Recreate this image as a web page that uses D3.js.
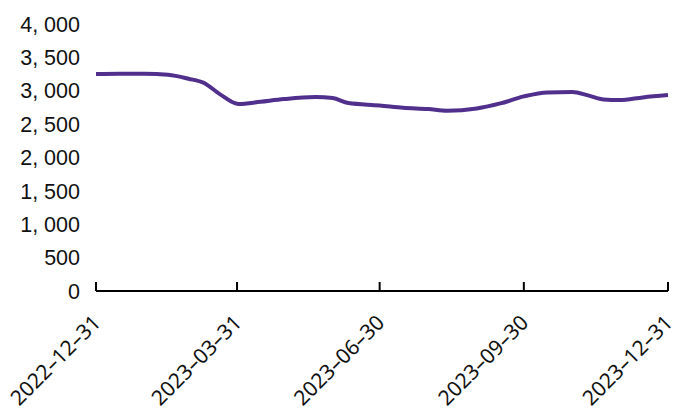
<!DOCTYPE html>
<html>
<head>
<meta charset="utf-8">
<script src="https://cdn.jsdelivr.net/npm/d3@7"></script>
<style>
  html, body { margin: 0; padding: 0; background: #fff; }
  svg { display: block; }
</style>
</head>
<body>
<svg id="chart" width="678" height="414"></svg>
<script>
const dates = ["2022-12-31","2023-01-15","2023-01-31","2023-02-15","2023-02-28","2023-03-10","2023-03-20","2023-04-01","2023-04-15","2023-04-30","2023-05-20","2023-05-31","2023-06-10","2023-06-30","2023-07-15","2023-07-31","2023-08-12","2023-08-31","2023-09-15","2023-09-30","2023-10-15","2023-10-31","2023-11-10","2023-11-20","2023-11-30","2023-12-15","2023-12-31"];
const values = [3250,3255,3255,3240,3180,3115,2950,2800,2835,2875,2905,2890,2815,2780,2745,2725,2700,2735,2810,2915,2975,2980,2930,2870,2860,2900,2935];
const xTickLabels = ["2022-12-31","2023-03-31","2023-06-30","2023-09-30","2023-12-31"];
const yTicks = [0,500,1000,1500,2000,2500,3000,3500,4000];

const parse = d3.timeParse("%Y-%m-%d");
const data = dates.map((d, i) => ({ date: parse(d), value: values[i] }));

const svg = d3.select("#chart");
const x = d3.scaleTime().domain([parse(xTickLabels[0]), parse(xTickLabels[xTickLabels.length - 1])]).range([96, 668]);
const y = d3.scaleLinear().domain([0, 4000]).range([291, 24]);

// Y labels
const fmt = v => d3.format(",")(v).replace(/,/g, ", ");
svg.append("g").selectAll("text").data(yTicks).join("text")
  .attr("x", 80).attr("y", d => y(d)).attr("dy", "0.36em")
  .attr("text-anchor", "end")
  .attr("font-family", "'Liberation Sans', Arial, sans-serif")
  .attr("font-size", 21.5).attr("fill", "#111")
  .text(fmt);

// X axis
const xg = svg.append("g").attr("transform", "translate(0,291)");
xg.append("line").attr("x1", 96).attr("x2", 668).attr("stroke", "#000").attr("stroke-width", 2);
const xt = xg.selectAll("g.tick").data(xTickLabels.map(parse)).join("g").attr("class", "tick")
  .attr("transform", d => `translate(${x(d)},0)`);
xt.append("line").attr("y1", 0).attr("y2", -9).attr("stroke", "#000").attr("stroke-width", 2);
xt.append("text")
  .attr("transform", "translate(6,33) rotate(-45)")
  .attr("text-anchor", "end")
  .attr("font-family", "'Noto Sans', sans-serif")
  .attr("font-size", 21).attr("fill", "#111")
  .text(d => d3.timeFormat("%Y–%m–%d")(d));

// Line
const line = d3.line().x(d => x(d.date)).y(d => y(d.value)).curve(d3.curveMonotoneX);
svg.append("path").datum(data).attr("d", line)
  .attr("fill", "none").attr("stroke", "#512f8c").attr("stroke-width", 4)
  .attr("stroke-linejoin", "round").attr("stroke-linecap", "butt");
</script>
</body>
</html>
